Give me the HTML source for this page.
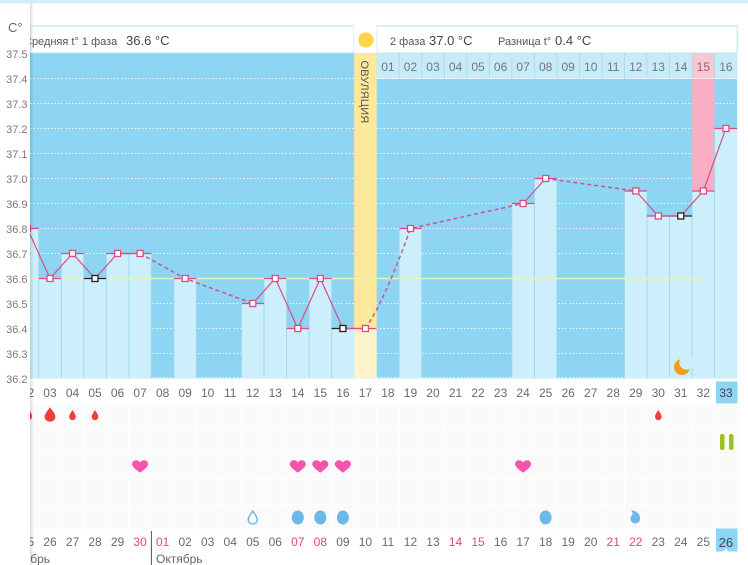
<!DOCTYPE html>
<html><head><meta charset="utf-8"><style>
html,body{margin:0;padding:0;background:#fff;}
svg{display:block;}
text{font-family:"Liberation Sans",sans-serif;}
</style></head><body>
<svg width="748" height="565" viewBox="0 0 748 565" xmlns="http://www.w3.org/2000/svg">
<defs>
<linearGradient id="sh" x1="0" x2="1" y1="0" y2="0">
<stop offset="0" stop-color="#000" stop-opacity="0.13"/>
<stop offset="1" stop-color="#000" stop-opacity="0"/>
</linearGradient>
<path id="drop" d="M0,-1 C0.3,-0.5 0.6,-0.15 0.6,0.25 A0.6,0.6 0 1 1 -0.6,0.25 C-0.6,-0.15 -0.3,-0.5 0,-1 Z"/>
<path id="heart" d="M0,6 C-4,3 -8,0 -8,-2.5 C-8,-5 -6,-6.5 -4,-6.5 C-2,-6.5 -0.6,-5.3 0,-4 C0.6,-5.3 2,-6.5 4,-6.5 C6,-6.5 8,-5 8,-2.5 C8,0 4,3 0,6 Z"/>
</defs>
<rect x="0" y="0" width="748" height="565" fill="#fff"/>
<rect x="0" y="0" width="748" height="3.5" fill="#d5eefa"/>

<!-- chart background -->
<rect x="30" y="53" width="707.15" height="325.3" fill="#8dd5f2"/>

<!-- grid dotted -->
<g stroke="#ffffff" stroke-width="1" stroke-dasharray="1.5 2" opacity="0.85">
<line x1="30" y1="78.5" x2="737" y2="78.5"/>
<line x1="30" y1="103.5" x2="737" y2="103.5"/>
<line x1="30" y1="128.5" x2="737" y2="128.5"/>
<line x1="30" y1="153.5" x2="737" y2="153.5"/>
<line x1="30" y1="178.5" x2="737" y2="178.5"/>
<line x1="30" y1="203.5" x2="737" y2="203.5"/>
<line x1="30" y1="228.5" x2="737" y2="228.5"/>
<line x1="30" y1="253.5" x2="737" y2="253.5"/>
<line x1="30" y1="303.5" x2="737" y2="303.5"/>
<line x1="30" y1="328.5" x2="737" y2="328.5"/>
<line x1="30" y1="353.5" x2="737" y2="353.5"/>
<line x1="30" y1="377.5" x2="737" y2="377.5"/>
</g>

<!-- pink column day 32 -->
<rect x="692.09" y="79" width="22.53" height="112" fill="#f8aec4"/>

<!-- bars -->
<g fill="#cdeefb" stroke="none">
<rect x="16.19" y="228.5" width="22.53" height="149.8"/>
<rect x="38.72" y="278.5" width="22.53" height="99.8"/>
<rect x="61.25" y="253.5" width="22.53" height="124.8"/>
<rect x="83.78" y="278.5" width="22.53" height="99.8"/>
<rect x="106.31" y="253.5" width="22.53" height="124.8"/>
<rect x="128.84" y="253.5" width="22.53" height="124.8"/>
<rect x="173.90" y="278.5" width="22.53" height="99.8"/>
<rect x="241.49" y="303.5" width="22.53" height="74.8"/>
<rect x="264.02" y="278.5" width="22.53" height="99.8"/>
<rect x="286.55" y="328.5" width="22.53" height="49.8"/>
<rect x="309.08" y="278.5" width="22.53" height="99.8"/>
<rect x="331.61" y="328.5" width="22.53" height="49.8"/>
<rect x="399.20" y="228.5" width="22.53" height="149.8"/>
<rect x="511.85" y="203.5" width="22.53" height="174.8"/>
<rect x="534.38" y="178.5" width="22.53" height="199.8"/>
<rect x="624.50" y="191" width="22.53" height="187.3"/>
<rect x="647.03" y="216" width="22.53" height="162.3"/>
<rect x="669.56" y="216" width="22.53" height="162.3"/>
<rect x="692.09" y="191" width="22.53" height="187.3"/>
<rect x="714.62" y="128.5" width="22.53" height="249.8"/>
</g>
<g stroke="#9fd9f0" stroke-width="1">
<line x1="38.7" y1="228.5" x2="38.7" y2="378"/>
<line x1="61.3" y1="253.5" x2="61.3" y2="378"/>
<line x1="83.8" y1="253.5" x2="83.8" y2="378"/>
<line x1="106.3" y1="253.5" x2="106.3" y2="378"/>
<line x1="128.8" y1="253.5" x2="128.8" y2="378"/>
<line x1="151.4" y1="253.5" x2="151.4" y2="378"/>
<line x1="173.9" y1="278.5" x2="173.9" y2="378"/>
<line x1="196.4" y1="278.5" x2="196.4" y2="378"/>
<line x1="241.5" y1="303.5" x2="241.5" y2="378"/>
<line x1="264.0" y1="278.5" x2="264.0" y2="378"/>
<line x1="286.6" y1="278.5" x2="286.6" y2="378"/>
<line x1="309.1" y1="278.5" x2="309.1" y2="378"/>
<line x1="331.6" y1="278.5" x2="331.6" y2="378"/>
<line x1="399.2" y1="228.5" x2="399.2" y2="378"/>
<line x1="421.7" y1="228.5" x2="421.7" y2="378"/>
<line x1="511.9" y1="203.5" x2="511.9" y2="378"/>
<line x1="534.4" y1="178.5" x2="534.4" y2="378"/>
<line x1="556.9" y1="178.5" x2="556.9" y2="378"/>
<line x1="624.5" y1="191" x2="624.5" y2="378"/>
<line x1="647.0" y1="191" x2="647.0" y2="378"/>
<line x1="669.6" y1="216" x2="669.6" y2="378"/>
<line x1="692.1" y1="191" x2="692.1" y2="378"/>
<line x1="714.6" y1="128.5" x2="714.6" y2="378"/>
</g>

<!-- ovulation column -->
<rect x="354.14" y="53" width="22.53" height="275.5" fill="#fde99b"/>
<rect x="354.14" y="328.5" width="22.53" height="49.8" fill="#fdf4cc"/>
<text transform="translate(361,92) rotate(90)" text-anchor="middle" font-size="11" fill="#555" letter-spacing="0.2">ОВУЛЯЦИЯ</text>

<!-- moon -->
<circle cx="682" cy="367" r="8" fill="#f29a1c"/>
<circle cx="686.5" cy="362.5" r="7.2" fill="#cdeefb"/>

<!-- mean line -->
<line x1="30" y1="278.5" x2="704" y2="278.5" stroke="#e6f3bd" stroke-width="1.6"/>

<!-- header boxes -->
<rect x="30" y="26" width="324.14" height="27" fill="#fff" stroke="#b8e2f4" stroke-width="1"/>
<rect x="376.67" y="26" width="360.48" height="27" fill="#fff" stroke="#b8e2f4" stroke-width="1"/>
<rect x="354.14" y="26" width="22.53" height="27" fill="#fff"/>
<circle cx="366" cy="40" r="7.6" fill="#fdd44c"/>
<text x="24" y="45" font-size="11" fill="#555">Средняя t° 1 фаза</text>
<text x="126" y="45" font-size="13" fill="#444">36.6 °C</text>
<text x="390" y="45" font-size="11" fill="#555">2 фаза</text>
<text x="429" y="45" font-size="13" fill="#444">37.0 °C</text>
<text x="498" y="45" font-size="11" fill="#555">Разница t°</text>
<text x="555" y="45" font-size="13" fill="#444">0.4 °C</text>

<!-- numbers row -->
<rect x="376.67" y="53" width="360.48" height="26" fill="#c9ebf9"/>
<rect x="692.09" y="53" width="22.53" height="26" fill="#f9c6d4"/>
<g stroke="#aadcf2" stroke-width="1">
<line x1="399.2" y1="53" x2="399.2" y2="79"/><line x1="421.7" y1="53" x2="421.7" y2="79"/>
<line x1="444.3" y1="53" x2="444.3" y2="79"/><line x1="466.8" y1="53" x2="466.8" y2="79"/>
<line x1="489.3" y1="53" x2="489.3" y2="79"/><line x1="511.9" y1="53" x2="511.9" y2="79"/>
<line x1="534.4" y1="53" x2="534.4" y2="79"/><line x1="556.9" y1="53" x2="556.9" y2="79"/>
<line x1="579.4" y1="53" x2="579.4" y2="79"/><line x1="602.0" y1="53" x2="602.0" y2="79"/>
<line x1="624.5" y1="53" x2="624.5" y2="79"/><line x1="647.0" y1="53" x2="647.0" y2="79"/>
<line x1="669.6" y1="53" x2="669.6" y2="79"/><line x1="692.1" y1="53" x2="692.1" y2="79"/>
<line x1="714.6" y1="53" x2="714.6" y2="79"/>
</g>
<line x1="376.67" y1="78.5" x2="737" y2="78.5" stroke="#fff" stroke-width="1" stroke-dasharray="1.5 1.5"/>
<g font-size="12" fill="#707780" text-anchor="middle">
<text x="387.93" y="71">01</text><text x="410.46" y="71">02</text><text x="432.99" y="71">03</text>
<text x="455.52" y="71">04</text><text x="478.05" y="71">05</text><text x="500.58" y="71">06</text>
<text x="523.11" y="71">07</text><text x="545.64" y="71">08</text><text x="568.17" y="71">09</text>
<text x="590.70" y="71">10</text><text x="613.23" y="71">11</text><text x="635.76" y="71">12</text>
<text x="658.29" y="71">13</text><text x="680.82" y="71">14</text>
<text x="703.35" y="71" fill="#9a5a70">15</text><text x="725.88" y="71">16</text>
</g>

<!-- tick lines -->
<g stroke="#df4a80" stroke-width="1.3">
<line x1="16.19" y1="228.5" x2="38.72" y2="228.5"/>
<line x1="38.72" y1="278.5" x2="61.25" y2="278.5"/>
<line x1="61.25" y1="253.5" x2="83.78" y2="253.5"/>
<line x1="106.31" y1="253.5" x2="128.84" y2="253.5"/>
<line x1="128.84" y1="253.5" x2="151.37" y2="253.5"/>
<line x1="173.90" y1="278.5" x2="196.43" y2="278.5"/>
<line x1="241.49" y1="303.5" x2="264.02" y2="303.5"/>
<line x1="264.02" y1="278.5" x2="286.55" y2="278.5"/>
<line x1="286.55" y1="328.5" x2="309.08" y2="328.5"/>
<line x1="309.08" y1="278.5" x2="331.61" y2="278.5"/>
<line x1="342.87" y1="328.5" x2="354.14" y2="328.5"/>
<line x1="354.14" y1="328.5" x2="376.67" y2="328.5"/>
<line x1="399.20" y1="228.5" x2="421.73" y2="228.5"/>
<line x1="511.85" y1="203.5" x2="534.38" y2="203.5"/>
<line x1="534.38" y1="178.5" x2="556.91" y2="178.5"/>
<line x1="624.50" y1="191" x2="647.03" y2="191"/>
<line x1="647.03" y1="216" x2="669.56" y2="216"/>
<line x1="692.09" y1="191" x2="714.62" y2="191"/>
<line x1="714.62" y1="128.5" x2="737.15" y2="128.5"/>
</g>
<g stroke="#222" stroke-width="1.3">
<line x1="83.78" y1="278.5" x2="106.31" y2="278.5"/>
<line x1="331.61" y1="328.5" x2="342.87" y2="328.5"/>
<line x1="669.56" y1="216" x2="692.09" y2="216"/>
</g>

<!-- solid lines -->
<polyline fill="none" stroke="#dc4d84" stroke-width="1.2" points="27.45,228.5 49.98,278.5 72.51,253.5 95.04,278.5 117.57,253.5 140.10,253.5"/>
<polyline fill="none" stroke="#dc4d84" stroke-width="1.2" points="252.75,303.5 275.28,278.5 297.81,328.5 320.34,278.5 342.87,328.5 365.40,328.5"/>
<polyline fill="none" stroke="#dc4d84" stroke-width="1.2" points="523.11,203.5 545.64,178.5"/>
<polyline fill="none" stroke="#dc4d84" stroke-width="1.2" points="635.76,191 658.29,216 680.82,216 703.35,191 725.88,128.5"/>
<!-- dashed lines -->
<g fill="none" stroke="#c9558a" stroke-width="1.5" stroke-dasharray="4 3">
<path d="M140.10,253.5 L185.16,278.5 L252.75,303.5"/>
<path d="M365.40,328.5 Q385,300 410.46,228.5 L523.11,203.5"/>
<path d="M545.64,178.5 L635.76,191"/>
</g>

<!-- markers -->
<g fill="#fff" stroke="#df4a80" stroke-width="1.3">
<rect x="24.5" y="225.5" width="6" height="6"/>
<rect x="47" y="275.5" width="6" height="6"/>
<rect x="69.5" y="250.5" width="6" height="6"/>
<rect x="114.6" y="250.5" width="6" height="6"/>
<rect x="137.1" y="250.5" width="6" height="6"/>
<rect x="182.2" y="275.5" width="6" height="6"/>
<rect x="249.8" y="300.5" width="6" height="6"/>
<rect x="272.3" y="275.5" width="6" height="6"/>
<rect x="294.8" y="325.5" width="6" height="6"/>
<rect x="317.3" y="275.5" width="6" height="6"/>
<rect x="362.4" y="325.5" width="6" height="6"/>
<rect x="407.5" y="225.5" width="6" height="6"/>
<rect x="520.1" y="200.5" width="6" height="6"/>
<rect x="542.6" y="175.5" width="6" height="6"/>
<rect x="632.8" y="188" width="6" height="6"/>
<rect x="655.3" y="213" width="6" height="6"/>
<rect x="700.4" y="188" width="6" height="6"/>
<rect x="722.9" y="125.5" width="6" height="6"/>
</g>
<g fill="#fff" stroke="#222" stroke-width="1.3">
<rect x="92" y="275.5" width="6" height="6"/>
<rect x="339.9" y="325.5" width="6" height="6"/>
<rect x="677.8" y="213" width="6" height="6"/>
</g>

<!-- bottom day row -->
<rect x="716" y="381.5" width="21.5" height="22" fill="#8dd5f2"/>
<g font-size="12" fill="#6a6a6a" text-anchor="middle">
<text x="27.45" y="397">02</text><text x="49.98" y="397">03</text><text x="72.51" y="397">04</text>
<text x="95.04" y="397">05</text><text x="117.57" y="397">06</text><text x="140.10" y="397">07</text>
<text x="162.63" y="397">08</text><text x="185.16" y="397">09</text><text x="207.69" y="397">10</text>
<text x="230.22" y="397">11</text><text x="252.75" y="397">12</text><text x="275.28" y="397">13</text>
<text x="297.81" y="397">14</text><text x="320.34" y="397">15</text><text x="342.87" y="397">16</text>
<text x="365.40" y="397">17</text><text x="387.93" y="397">18</text><text x="410.46" y="397">19</text>
<text x="432.99" y="397">20</text><text x="455.52" y="397">21</text><text x="478.05" y="397">22</text>
<text x="500.58" y="397">23</text><text x="523.11" y="397">24</text><text x="545.64" y="397">25</text>
<text x="568.17" y="397">26</text><text x="590.70" y="397">27</text><text x="613.23" y="397">28</text>
<text x="635.76" y="397">29</text><text x="658.29" y="397">30</text><text x="680.82" y="397">31</text>
<text x="703.35" y="397">32</text><text x="725.88" y="397" fill="#445">33</text>
</g>

<!-- symbol grid faint -->
<g fill="#fafafa">
<rect x="30" y="405" width="707" height="24"/>
<rect x="30" y="430" width="707" height="24"/>
<rect x="30" y="455" width="707" height="24"/>
<rect x="30" y="480" width="707" height="24"/>
<rect x="30" y="505" width="707" height="24"/>
</g>
<g stroke="#fff" stroke-width="1">
<line x1="38.7" y1="404" x2="38.7" y2="530"/><line x1="61.3" y1="404" x2="61.3" y2="530"/>
<line x1="83.8" y1="404" x2="83.8" y2="530"/><line x1="106.3" y1="404" x2="106.3" y2="530"/>
<line x1="128.8" y1="404" x2="128.8" y2="530"/><line x1="151.4" y1="404" x2="151.4" y2="530"/>
<line x1="173.9" y1="404" x2="173.9" y2="530"/><line x1="196.4" y1="404" x2="196.4" y2="530"/>
<line x1="219.0" y1="404" x2="219.0" y2="530"/><line x1="241.5" y1="404" x2="241.5" y2="530"/>
<line x1="264.0" y1="404" x2="264.0" y2="530"/><line x1="286.6" y1="404" x2="286.6" y2="530"/>
<line x1="309.1" y1="404" x2="309.1" y2="530"/><line x1="331.6" y1="404" x2="331.6" y2="530"/>
<line x1="354.1" y1="404" x2="354.1" y2="530"/><line x1="376.7" y1="404" x2="376.7" y2="530"/>
<line x1="399.2" y1="404" x2="399.2" y2="530"/><line x1="421.7" y1="404" x2="421.7" y2="530"/>
<line x1="444.3" y1="404" x2="444.3" y2="530"/><line x1="466.8" y1="404" x2="466.8" y2="530"/>
<line x1="489.3" y1="404" x2="489.3" y2="530"/><line x1="511.9" y1="404" x2="511.9" y2="530"/>
<line x1="534.4" y1="404" x2="534.4" y2="530"/><line x1="556.9" y1="404" x2="556.9" y2="530"/>
<line x1="579.4" y1="404" x2="579.4" y2="530"/><line x1="602.0" y1="404" x2="602.0" y2="530"/>
<line x1="624.5" y1="404" x2="624.5" y2="530"/><line x1="647.0" y1="404" x2="647.0" y2="530"/>
<line x1="669.6" y1="404" x2="669.6" y2="530"/><line x1="692.1" y1="404" x2="692.1" y2="530"/>
<line x1="714.6" y1="404" x2="714.6" y2="530"/>
</g>

<!-- red drops -->
<g fill="#f23d3d">
<use href="#drop" transform="translate(27.5,414.5) scale(7.5)"/>
<use href="#drop" transform="translate(50,415) scale(9,7.8)"/>
<use href="#drop" transform="translate(72.5,415.5) scale(5.5,5.5)"/>
<use href="#drop" transform="translate(95,415.5) scale(5.5,5.5)"/>
<use href="#drop" transform="translate(658.3,415.5) scale(5.5,5.5)"/>
</g>
<!-- green pause -->
<rect x="720" y="434" width="4.5" height="16" rx="2" fill="#9cc31d"/>
<rect x="729" y="434" width="4.5" height="16" rx="2" fill="#9cc31d"/>
<!-- hearts -->
<g fill="#f553ad">
<use href="#heart" transform="translate(140.1,466.8)"/>
<use href="#heart" transform="translate(297.8,466.8)"/>
<use href="#heart" transform="translate(320.3,466.8)"/>
<use href="#heart" transform="translate(342.9,466.8)"/>
<use href="#heart" transform="translate(523.1,466.8)"/>
</g>
<!-- blue drops -->
<g fill="#6cb9e9">
<ellipse cx="297.8" cy="517.5" rx="6" ry="7"/>
<ellipse cx="320.3" cy="517.5" rx="6" ry="7"/>
<ellipse cx="342.9" cy="517.5" rx="6" ry="7"/>
<ellipse cx="545.6" cy="517.5" rx="6" ry="7"/>
<path d="M631,510 Q640,512 640,518 A4.8,4.8 0 1 1 631,516.5 Q634,514 631,510 Z"/>
</g>
<use href="#drop" transform="translate(252.75,518) scale(7.5,7)" fill="#fff" stroke="#6cb9e9" stroke-width="0.2"/>

<!-- date row -->
<rect x="716" y="528.5" width="21.5" height="23" fill="#8dd5f2"/>
<path d="M723.5,551.5 L726,548.5 L728.5,551.5 Z" fill="#fff"/>
<line x1="151.4" y1="531" x2="151.4" y2="565" stroke="#555" stroke-width="1"/>
<g font-size="12" fill="#6a6a6a" text-anchor="middle">
<text x="27.45" y="546">25</text><text x="49.98" y="546">26</text><text x="72.51" y="546">27</text>
<text x="95.04" y="546">28</text><text x="117.57" y="546">29</text><text x="140.10" y="546" fill="#e8457f">30</text>
<text x="162.63" y="546" fill="#e8457f">01</text><text x="185.16" y="546">02</text><text x="207.69" y="546">03</text>
<text x="230.22" y="546">04</text><text x="252.75" y="546">05</text><text x="275.28" y="546">06</text>
<text x="297.81" y="546" fill="#e8457f">07</text><text x="320.34" y="546" fill="#e8457f">08</text><text x="342.87" y="546">09</text>
<text x="365.40" y="546">10</text><text x="387.93" y="546">11</text><text x="410.46" y="546">12</text>
<text x="432.99" y="546">13</text><text x="455.52" y="546" fill="#e8457f">14</text><text x="478.05" y="546" fill="#e8457f">15</text>
<text x="500.58" y="546">16</text><text x="523.11" y="546">17</text><text x="545.64" y="546">18</text>
<text x="568.17" y="546">19</text><text x="590.70" y="546">20</text><text x="613.23" y="546" fill="#e8457f">21</text>
<text x="635.76" y="546" fill="#e8457f">22</text><text x="658.29" y="546">23</text><text x="680.82" y="546">24</text>
<text x="703.35" y="546">25</text><text x="725.88" y="547" font-size="13" fill="#445">26</text>
</g>
<text x="50" y="563" font-size="12" fill="#666" text-anchor="end">Сентябрь</text>
<text x="156" y="563" font-size="12" fill="#666">Октябрь</text>

<!-- left panel -->
<rect x="0" y="3.5" width="30" height="561.5" fill="#fff"/>
<rect x="30" y="3.5" width="4" height="561.5" fill="url(#sh)"/>
<text x="8" y="32" font-size="13" fill="#666">C°</text>
<g font-size="11" fill="#7a7a7a" text-anchor="end">
<text x="27.5" y="58">37.5</text><text x="27.5" y="83">37.4</text><text x="27.5" y="108">37.3</text>
<text x="27.5" y="133">37.2</text><text x="27.5" y="158">37.1</text><text x="27.5" y="183">37.0</text>
<text x="27.5" y="208">36.9</text><text x="27.5" y="233">36.8</text><text x="27.5" y="258">36.7</text>
<text x="27.5" y="283">36.6</text><text x="27.5" y="308">36.5</text><text x="27.5" y="333">36.4</text>
<text x="27.5" y="358">36.3</text><text x="27.5" y="383">36.2</text>
</g>
</svg>
</body></html>
